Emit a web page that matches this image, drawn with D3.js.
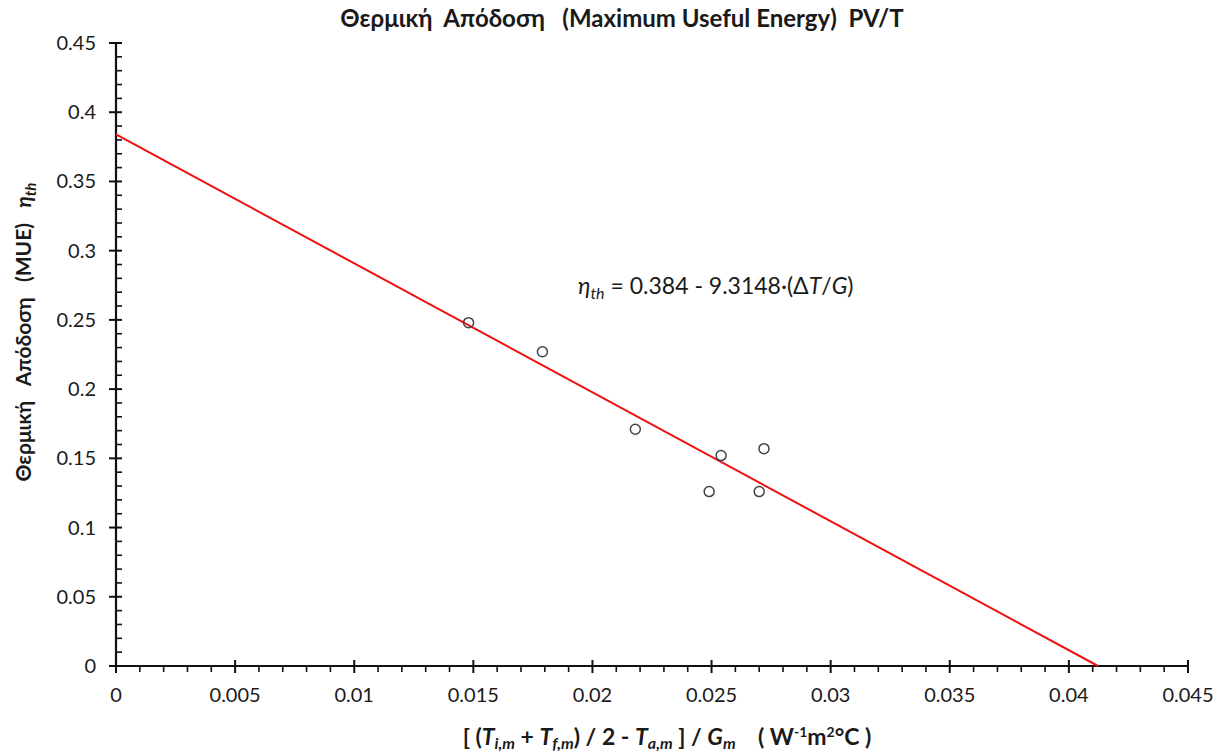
<!DOCTYPE html>
<html>
<head>
<meta charset="utf-8">
<script src="https://cdn.jsdelivr.net/npm/d3@7"></script>
<style>
  body { margin: 0; background: #fff; }
  text { font-family: Lato, "Open Sans", sans-serif; fill: #1a1a1a; }
</style>
</head>
<body>
<svg id="chart"></svg>
<script>
// measured points (dT/G, efficiency)
const X_VALUES = [0.0148, 0.0179, 0.0218, 0.0254, 0.0249, 0.0270, 0.0272];
const Y_VALUES = [0.248, 0.227, 0.171, 0.152, 0.126, 0.126, 0.157];

// fit: eta = a - b * x
const FIT_A = 0.384;
const FIT_B = 9.3148;

const X_TICKS = [0, 0.005, 0.01, 0.015, 0.02, 0.025, 0.03, 0.035, 0.04, 0.045];
const Y_TICKS = [0, 0.05, 0.1, 0.15, 0.2, 0.25, 0.3, 0.35, 0.4, 0.45];

const WIDTH = 1222;
const HEIGHT = 753;
const margin = { left: 116, right: 34, top: 43, bottom: 87 };

const svg = d3.select("#chart")
    .attr("width", WIDTH)
    .attr("height", HEIGHT);

const x = d3.scaleLinear().domain([0, 0.045]).range([margin.left, WIDTH - margin.right]);
const y = d3.scaleLinear().domain([0, 0.45]).range([HEIGHT - margin.bottom, margin.top]);

// minor ticks
const xMinor = d3.range(0, 0.0451, 0.001).filter(function(v) { return Math.abs(v / 0.005 - Math.round(v / 0.005)) > 1e-6; });
const yMinor = d3.range(0, 0.451, 0.01).filter(function(v) { return Math.abs(v / 0.05 - Math.round(v / 0.05)) > 1e-6; });

svg.append("g")
    .selectAll("line")
    .data(xMinor)
    .enter().append("line")
    .attr("x1", d => x(d)).attr("x2", d => x(d))
    .attr("y1", y(0)).attr("y2", y(0) + 6)
    .attr("stroke", "#111").attr("stroke-width", 1.6);

svg.append("g")
    .selectAll("line")
    .data(yMinor)
    .enter().append("line")
    .attr("x1", x(0)).attr("x2", x(0) + 6)
    .attr("y1", d => y(d)).attr("y2", d => y(d))
    .attr("stroke", "#111").attr("stroke-width", 1.6);

// major ticks crossing the axis
svg.append("g")
    .selectAll("line")
    .data(X_TICKS)
    .enter().append("line")
    .attr("x1", d => x(d)).attr("x2", d => x(d))
    .attr("y1", y(0) - 6).attr("y2", y(0) + 7)
    .attr("stroke", "#111").attr("stroke-width", 2);

svg.append("g")
    .selectAll("line")
    .data(Y_TICKS)
    .enter().append("line")
    .attr("x1", x(0) - 7).attr("x2", x(0) + 6)
    .attr("y1", d => y(d)).attr("y2", d => y(d))
    .attr("stroke", "#111").attr("stroke-width", 2);

const axisG = svg.append("g").attr("stroke", "#111").attr("stroke-width", 2.2);
axisG.append("line")
    .attr("x1", x(0)).attr("x2", x(0.045))
    .attr("y1", y(0)).attr("y2", y(0));
axisG.append("line")
    .attr("x1", x(0)).attr("x2", x(0))
    .attr("y1", y(0)).attr("y2", y(0.45));

// tick labels
svg.append("g")
    .selectAll("text")
    .data(X_TICKS)
    .enter().append("text")
    .attr("x", d => x(d))
    .attr("y", y(0) + 36)
    .attr("text-anchor", "middle")
    .attr("font-size", 20)
    .text(d => d);

svg.append("g")
    .selectAll("text")
    .data(Y_TICKS)
    .enter().append("text")
    .attr("x", x(0) - 20)
    .attr("y", d => y(d) + 7)
    .attr("text-anchor", "end")
    .attr("font-size", 20)
    .text(d => d);

// fit line
const xEnd = FIT_A / FIT_B;
svg.append("line")
    .attr("x1", x(0)).attr("y1", y(FIT_A))
    .attr("x2", x(xEnd)).attr("y2", y(0))
    .attr("stroke", "#ee1111")
    .attr("stroke-width", 2);

// points
svg.append("g")
    .selectAll("circle")
    .data(X_VALUES.map((v, i) => [v, Y_VALUES[i]]))
    .enter().append("circle")
    .attr("cx", d => x(d[0]))
    .attr("cy", d => y(d[1]))
    .attr("r", 5)
    .attr("fill", "none")
    .attr("stroke", "#444")
    .attr("stroke-width", 1.5);

// title
svg.append("text")
    .attr("x", 622)
    .attr("y", 27)
    .attr("text-anchor", "middle")
    .attr("font-size", 24)
    .attr("font-weight", "bold")
    .attr("xml:space", "preserve")
    .text("Θερμική  Απόδοση   (Maximum Useful Energy)  PV/T");

// equation
const eq = svg.append("text")
    .attr("x", 578)
    .attr("y", 294)
    .attr("font-size", 23);
eq.append("tspan").attr("font-style", "italic").text("η");
eq.append("tspan").attr("font-style", "italic").attr("font-size", 16).attr("dy", 5).text("th");
eq.append("tspan").attr("dy", -5).text(" = 0.384 - 9.3148·(Δ");
eq.append("tspan").attr("font-style", "italic").text("T");
eq.append("tspan").text("/");
eq.append("tspan").attr("font-style", "italic").text("G");
eq.append("tspan").text(")");

// x label
const xl = svg.append("text")
    .attr("x", 667)
    .attr("y", 745)
    .attr("text-anchor", "middle")
    .attr("font-size", 23)
    .attr("font-weight", "bold")
    .attr("xml:space", "preserve");
xl.append("tspan").text("[ (");
xl.append("tspan").attr("font-style", "italic").text("T");
xl.append("tspan").attr("font-style", "italic").attr("font-size", 16).attr("dy", 4).text("i,m");
xl.append("tspan").attr("dy", -4).text(" + ");
xl.append("tspan").attr("font-style", "italic").text("T");
xl.append("tspan").attr("font-style", "italic").attr("font-size", 16).attr("dy", 4).text("f,m");
xl.append("tspan").attr("dy", -4).text(") / 2 - ");
xl.append("tspan").attr("font-style", "italic").text("T");
xl.append("tspan").attr("font-style", "italic").attr("font-size", 16).attr("dy", 4).text("a,m");
xl.append("tspan").attr("dy", -4).text(" ] / ");
xl.append("tspan").attr("font-style", "italic").text("G");
xl.append("tspan").attr("font-style", "italic").attr("font-size", 16).attr("dy", 4).text("m");
xl.append("tspan").attr("dy", -4).text("    ( W");
xl.append("tspan").attr("font-size", 14).attr("dy", -8).text("-1");
xl.append("tspan").attr("dy", 8).text("m");
xl.append("tspan").attr("font-size", 14).attr("dy", -8).text("2");
xl.append("tspan").attr("dy", 8).text("°C )");

// y label
const yl = svg.append("text")
    .attr("transform", "translate(31,332) rotate(-90)")
    .attr("text-anchor", "middle")
    .attr("font-size", 21)
    .attr("font-weight", "bold")
    .attr("xml:space", "preserve");
yl.append("tspan").text("Θερμική   Απόδοση   (MUE)   ");
yl.append("tspan").attr("font-style", "italic").text("η");
yl.append("tspan").attr("font-style", "italic").attr("font-size", 15).attr("dy", 5).text("th");
</script>
</body>
</html>
